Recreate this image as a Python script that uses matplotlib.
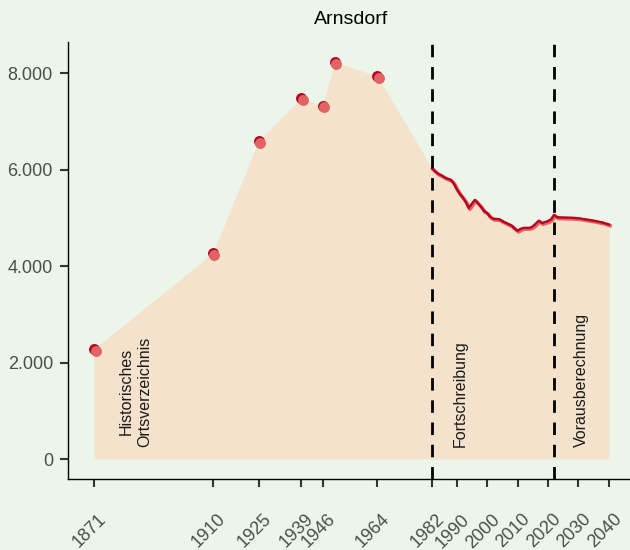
import matplotlib.pyplot as plt
import matplotlib.transforms as mtransforms

plt.rcParams['font.family'] = ['Liberation Sans', 'DejaVu Sans']

# Historische Werte (Ortsverzeichnis)
hist_years = [1871, 1910, 1925, 1939, 1946, 1950, 1964]
hist_pop = [2280, 4270, 6590, 7480, 7320, 8228, 7938]

# Fortschreibung 1982-2022
fort_years = list(range(1982, 2023))
fort_pop = [6020, 5960, 5910, 5880, 5840, 5810, 5790, 5720, 5600, 5500,
            5420, 5330, 5200, 5290, 5370, 5300, 5230, 5140, 5100, 5020,
            4980, 4975, 4970, 4930, 4900, 4870, 4840, 4780, 4730, 4770,
            4790, 4790, 4790, 4820, 4880, 4940, 4890, 4910, 4930, 4970,
            5060]

# Vorausberechnung
proj_years = [2022, 2023, 2025, 2028, 2030, 2032, 2035, 2038, 2040]
proj_pop = [5060, 5010, 5005, 5000, 4990, 4970, 4940, 4900, 4860]

tick_years = [1871, 1910, 1925, 1939, 1946, 1964, 1982, 1990, 2000, 2010,
              2020, 2030, 2040]
breaks = [1982, 2022]

bg = '#ecf5ea'
fill_col = '#f5e2cc'
dark = '#b8001f'
light = '#e06464'

fig = plt.figure(figsize=(6.3, 5.5), dpi=100, facecolor=bg)
ax = fig.add_axes([68.25 / 630, 71.15 / 550, 566.4 / 630, 436.7 / 550])
ax.set_facecolor(bg)

all_years = hist_years + fort_years + proj_years[1:]
all_pop = hist_pop + fort_pop + proj_pop[1:]
ax.fill_between(all_years, 0, all_pop, color=fill_col, lw=0, zorder=1)

off = mtransforms.offset_copy(ax.transData, fig=fig, x=1.2, y=-1.2, units='dots')
line_years = fort_years + proj_years[1:]
line_pop = fort_pop + proj_pop[1:]
ax.plot(line_years, line_pop, color=light, lw=2.6, transform=off, zorder=3)
ax.plot(line_years, line_pop, color=dark, lw=1.7, zorder=4)

ax.scatter(hist_years, hist_pop, s=62, color=dark, lw=0, zorder=5)
ax.scatter(hist_years, hist_pop, s=62, color=light, lw=0, zorder=6,
           transform=mtransforms.offset_copy(ax.transData, fig=fig, x=1.6, y=-1.6, units='dots'))

for b in breaks:
    ax.axvline(b, color='black', lw=2, ls=(0, (4.5, 3.5)), zorder=7)

ax.text(1884.5, 250, 'Historisches\nOrtsverzeichnis', rotation=90, ha='center',
        va='bottom', fontsize=11.5, color='#1a1a1a', linespacing=1.3, zorder=8)
ax.text(1991.2, 250, 'Fortschreibung', rotation=90, ha='center', va='bottom',
        fontsize=11.5, color='#1a1a1a', zorder=8)
ax.text(2031.0, 250, 'Vorausberechnung', rotation=90, ha='center', va='bottom',
        fontsize=11.5, color='#1a1a1a', zorder=8)

ax.set_xlim(1862.55, 2048.45)
ax.set_ylim(-411.4, 8639.4)
ax.set_xticks(tick_years)
ax.set_xticklabels([str(y) for y in tick_years], rotation=45, ha='right',
                   va='top', rotation_mode='anchor')
ax.set_yticks([0, 2000, 4000, 6000, 8000])
ax.set_yticklabels(['0', '2.000', '4.000', '6.000', '8.000'])
ax.tick_params(axis='both', labelsize=13, labelcolor='#4d4d4d', color='#333333',
               width=1.5, length=6)
ax.tick_params(axis='x', pad=17)
ax.tick_params(axis='y', pad=5)
for lab in ax.get_xticklabels():
    lab.set_transform(lab.get_transform() +
                      mtransforms.ScaledTranslation(4 / 100, 0, fig.dpi_scale_trans))

for s in ['top', 'right']:
    ax.spines[s].set_visible(False)
for s in ['left', 'bottom']:
    ax.spines[s].set_color('black')
    ax.spines[s].set_linewidth(1.0)

fig.text(351, 531, 'Arnsdorf', transform=None, ha='center', va='center',
         fontsize=14, color='black')

fig.savefig('out.png', dpi=100, facecolor=bg)
